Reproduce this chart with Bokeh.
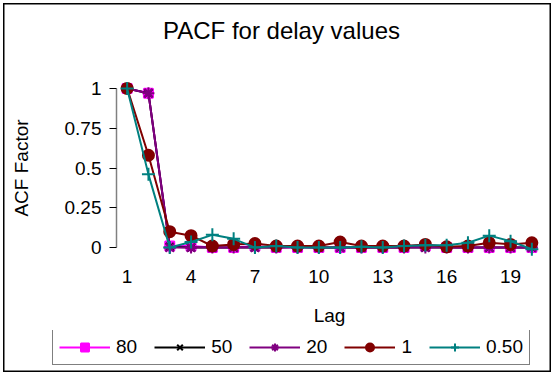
from bokeh.plotting import figure
from bokeh.layouts import column
from bokeh.models import (Range1d, FixedTicker, NumeralTickFormatter, Legend, LegendItem, Label)
from bokeh.embed import file_html
from bokeh.resources import INLINE

lags = list(range(1, 21))
x_tick_lags = [1, 4, 7, 10, 13, 16, 19]
y_ticks = [0, 0.25, 0.5, 0.75, 1]

s80 = [1, 0.97, 0.01, 0.01, 0.0, 0.0, 0.01, 0.0, 0.0, 0.0, 0.0, 0.0, 0.0, 0.0, 0.01, 0.0, 0.0, 0.0, 0.0, 0.0]
s50 = [1, 0.97, 0.005, 0.0, 0.0, 0.0, 0.0, 0.0, 0.005, 0.0, 0.0, 0.0, 0.0, 0.0, 0.0, 0.0, 0.0, 0.0, 0.0, 0.0]
s20 = [1, 0.97, 0.0, 0.0, 0.0, 0.0, 0.0, 0.0, 0.0, 0.0, 0.0, 0.0, 0.0, 0.0, 0.0, 0.0, 0.0, 0.0, 0.0, 0.0]
s1 = [1, 0.58, 0.10, 0.075, 0.01, 0.02, 0.025, 0.01, 0.01, 0.01, 0.035, 0.01, 0.01, 0.01, 0.02, 0.005, 0.01, 0.03, 0.02, 0.03]
s050 = [1, 0.46, 0.0, 0.035, 0.08, 0.055, 0.0, 0.01, 0.0, 0.0, 0.0, 0.005, 0.0, 0.01, 0.015, 0.015, 0.03, 0.075, 0.04, -0.01]

series_names = ["80", "50", "20", "1", "0.50"]
series_values = [s80, s50, s20, s1, s050]
title_text = "PACF for delay values"

FONT = "Liberation Sans"
NAN = float("nan")


def blank_strip(height):
    f = figure(width=554, height=height, output_backend="svg", toolbar_location=None,
               x_range=Range1d(0, 1), y_range=Range1d(0, 1),
               x_axis_location=None, y_axis_location=None, min_border=0)
    f.frame_align = False
    f.outline_line_color = None
    f.xgrid.visible = False
    f.ygrid.visible = False
    f.background_fill_color = None
    f.border_fill_color = None
    return f


# ---------- title strip ----------
t = blank_strip(60)
t.add_layout(Label(x=281, y=30, x_units="screen", y_units="screen", text=title_text,
                   text_align="center", text_baseline="middle", text_font=FONT,
                   text_font_size="24px", text_color="black"))

# ---------- main chart ----------
p = figure(width=554, height=270, output_backend="svg", toolbar_location=None,
           x_range=Range1d(0.5, 20.5), y_range=Range1d(-0.1, 1.1),
           min_border_left=116, min_border_right=12, min_border_top=12, min_border_bottom=67)
p.frame_align = False
p.outline_line_color = None
p.xgrid.visible = False
p.ygrid.visible = False
p.background_fill_color = None
p.border_fill_color = None

ya = p.yaxis[0]
ya.ticker = FixedTicker(ticks=y_ticks)
ya.formatter = NumeralTickFormatter(format="0.[00]")
ya.bounds = (0, 1)
ya.axis_line_color = "#808080"
ya.axis_line_width = 1.5
ya.major_tick_line_color = "black"
ya.major_tick_in = 0
ya.major_tick_out = 7
ya.minor_tick_line_color = None
ya.major_label_text_font = FONT
ya.major_label_text_font_size = "19px"
ya.major_label_text_color = "black"
ya.major_label_standoff = 8
ya.axis_label = "ACF Factor"
ya.axis_label_text_font = FONT
ya.axis_label_text_font_size = "19px"
ya.axis_label_text_font_style = "normal"
ya.axis_label_text_color = "black"
ya.axis_label_standoff = 30

xa = p.xaxis[0]
xa.ticker = FixedTicker(ticks=x_tick_lags)
xa.axis_line_color = None
xa.major_tick_line_color = None
xa.minor_tick_line_color = None
xa.major_tick_in = 0
xa.major_tick_out = 0
xa.major_label_text_font = FONT
xa.major_label_text_font_size = "19px"
xa.major_label_text_color = "black"
xa.major_label_standoff = 6
xa.axis_label = "Lag"
xa.axis_label_text_font = FONT
xa.axis_label_text_font_size = "19px"
xa.axis_label_text_font_style = "normal"
xa.axis_label_text_color = "black"
xa.axis_label_standoff = 19

styles = [
    dict(color="#FF00FF", marker="square", size=9),
    dict(color="#000000", marker="x", size=11),
    dict(color="#800080", marker="asterisk", size=12),
    dict(color="#800000", marker="circle", size=11),
    dict(color="#008080", marker="cross", size=13),
]

for name, vals, st in zip(series_names, series_values, styles):
    p.line(lags, vals, line_color=st["color"], line_width=2)
    p.scatter(lags, vals, marker=st["marker"], size=st["size"],
              fill_color=st["color"], line_color=st["color"], line_width=2)

# ---------- legend strip ----------
q = blank_strip(45)

items = []
for name, st in zip(series_names, styles):
    l = q.line([NAN], [NAN], line_color=st["color"], line_width=2)
    m = q.scatter([NAN], [NAN], marker=st["marker"], size=st["size"],
                  fill_color=st["color"], line_color=st["color"], line_width=2)
    items.append(LegendItem(label=name, renderers=[l, m]))

legend = Legend(items=items, orientation="horizontal", location=(52, 10))
legend.label_text_font = FONT
legend.label_text_font_size = "19px"
legend.label_text_color = "black"
legend.glyph_width = 51
legend.glyph_height = 20
legend.label_standoff = 6
legend.label_width = 0
legend.spacing = 17
legend.padding = 6
legend.margin = 0
legend.border_line_color = "black"
legend.border_line_width = 1
legend.background_fill_color = "white"
legend.background_fill_alpha = 1
legend.label_height = 20
q.add_layout(legend, "center")

layout = column(t, p, q, spacing=0,
                styles={"box-shadow": "inset 0 0 0 3px white, inset 0 0 0 4.5px black",
                        "background-color": "white"})

open("out.html", "w").write(file_html(layout, INLINE))
